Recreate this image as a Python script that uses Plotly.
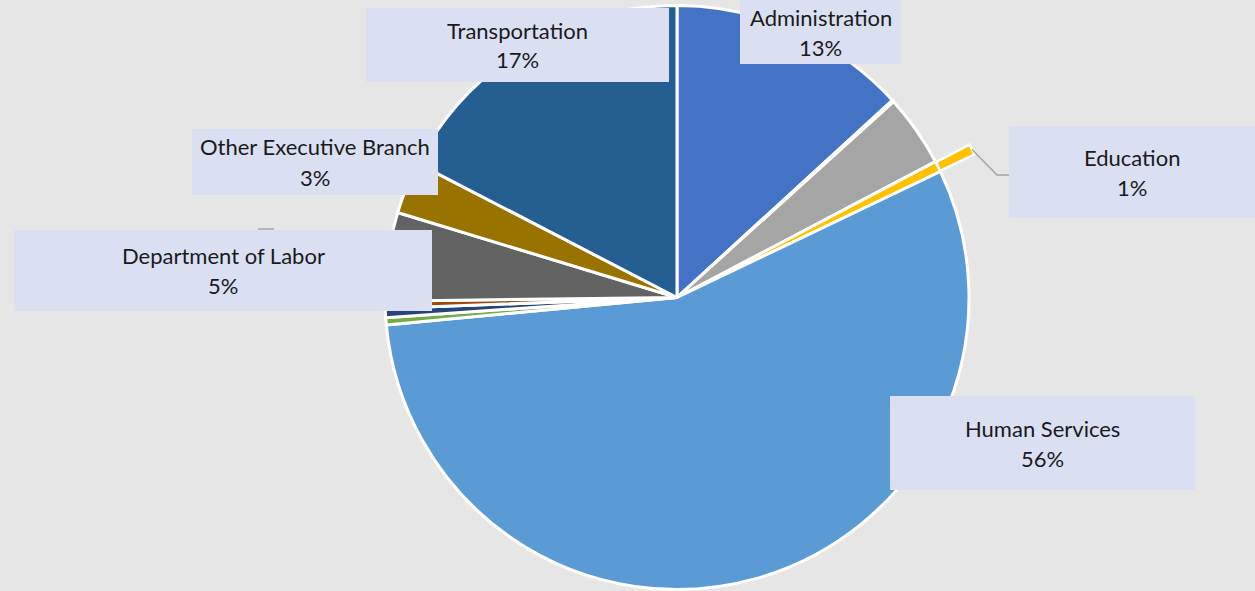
import math
import plotly.graph_objects as go

# ---- data (clockwise from 12 o'clock) ----
categories = ["Administration", "Legislative", "Public Safety", "Education", "Human Services",
              "Judiciary", "Housing", "Environment", "Department of Labor",
              "Other Executive Branch", "Transportation"]
shares = [13.2, 0.1, 4.0, 0.6, 55.6, 0.4, 0.5, 0.4, 4.9, 2.9, 17.4]
colors = ["#4472C4", "#ED7D31", "#A5A5A5", "#FFC000", "#5B9BD5", "#70AD47",
          "#264478", "#9E480E", "#636363", "#997300", "#255E91"]
exploded = "Education"
explode_px = 38

# labelled slices and their callout boxes (pixel boxes: x0, y0, x1, y1)
labelled = ["Transportation", "Administration", "Education",
            "Other Executive Branch", "Department of Labor", "Human Services"]
boxes = {
    "Transportation": (366, 8, 669, 82),
    "Administration": (740, 0, 901, 64),
    "Education": (1009, 126, 1255, 218),
    "Other Executive Branch": (192, 129, 438, 195),
    "Department of Labor": (14, 230, 432, 311),
    "Human Services": (890, 396, 1195, 490),
}

W, H = 1255, 591
cx, cy, r = 677, 297.5, 292
FONT = dict(family="Lato", size=22, color="#1a1a1a")

def px(x):
    return x / W

def py(y):
    return 1 - y / H

fig = go.Figure()

# exploded slice: the part pulled out beyond the rim (drawn under the pie)
total = sum(shares)
i = categories.index(exploded)
a0 = sum(shares[:i]) / total * 2 * math.pi
a1 = sum(shares[:i + 1]) / total * 2 * math.pi
am = (a0 + a1) / 2
ox, oy = explode_px * math.sin(am), -explode_px * math.cos(am)
steps = 12
wx = [cx + ox] + [cx + ox + r * math.sin(a0 + (a1 - a0) * k / steps) for k in range(steps + 1)] + [cx + ox]
wy = [cy + oy] + [cy + oy - r * math.cos(a0 + (a1 - a0) * k / steps) for k in range(steps + 1)] + [cy + oy]
fig.add_trace(go.Scatter(x=wx, y=wy, fill="toself", fillcolor=colors[i], mode="lines",
                         line=dict(color="white", width=2.5), hoverinfo="skip",
                         showlegend=False))

fig.add_trace(go.Pie(
    labels=categories, values=shares, sort=False, direction="clockwise", rotation=0,
    marker=dict(colors=colors, line=dict(color="white", width=3)),
    textinfo="none", showlegend=False,
    domain=dict(x=[px(cx - r), px(cx + r)], y=[py(cy + r), py(cy - r)]),
))

shapes = []
annotations = []
for name in labelled:
    x0, y0, x1, y1 = boxes[name]
    shapes.append(dict(type="rect", xref="paper", yref="paper",
                       x0=px(x0), x1=px(x1), y0=py(y1), y1=py(y0),
                       fillcolor="#DAE0F2", line=dict(width=0), layer="above"))
    pct = round(shares[categories.index(name)] / total * 100)
    xm = (x0 + x1) / 2
    ym = (y0 + y1) / 2
    for txt, dy in ((name, -15), (f"{pct}%", 15)):
        annotations.append(dict(text=txt, xref="paper", yref="paper",
                                x=px(xm), y=py(ym + dy), showarrow=False,
                                xanchor="center", yanchor="middle", font=FONT))

# leader lines
tipx = cx + ox + r * math.sin(am)
tipy = cy + oy - r * math.cos(am)
shapes.append(dict(type="path", xref="paper", yref="paper",
                   path=f"M {px(tipx)},{py(tipy)} L {px(997)},{py(175)} L {px(1009)},{py(175)}",
                   line=dict(color="#A5A5A5", width=1.5)))
shapes.append(dict(type="line", xref="paper", yref="paper",
                   x0=px(258), x1=px(274), y0=py(229), y1=py(229),
                   line=dict(color="#A5A5A5", width=1.5)))

fig.update_layout(
    width=W, height=H, margin=dict(l=0, r=0, t=0, b=0),
    paper_bgcolor="#E7E6E6", plot_bgcolor="rgba(0,0,0,0)",
    xaxis=dict(range=[0, W], visible=False, fixedrange=True),
    yaxis=dict(range=[H, 0], visible=False, fixedrange=True),
    shapes=shapes, annotations=annotations,
)
fig.write_html("out.html", config={"displayModeBar": False},
               post_script="document.body.style.margin='0';")
